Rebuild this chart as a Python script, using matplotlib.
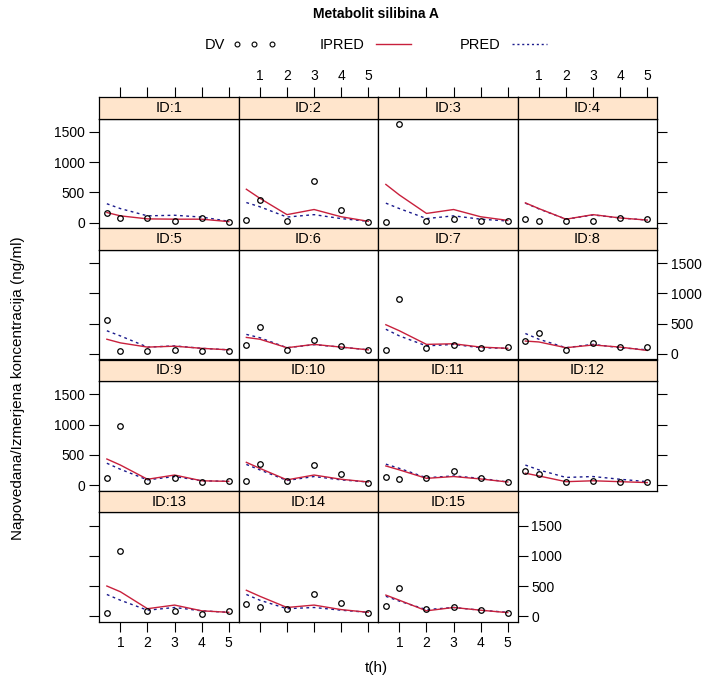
# ============================
# IMPORT LIBRARIES
# ============================
import matplotlib
matplotlib.use("Agg")
import matplotlib.pyplot as plt
from matplotlib.lines import Line2D

plt.rcParams["font.family"] = ["Liberation Sans", "DejaVu Sans"]

# ============================
# DATA (concentrations in ng/ml)
# ============================
ids = list(range(1, 16))
t = [0.5, 1, 2, 3, 4, 5]

dv = [
    [165, 70, 80, 30, 80, 10],
    [35, 380, 20, 690, 215, 10],
    [10, 1630, 20, 65, 20, 30],
    [65, 20, 20, 20, 75, 65],
    [560, 45, 45, 55, 40, 45],
    [145, 445, 70, 220, 125, 70],
    [70, 905, 90, 145, 90, 110],
    [210, 350, 70, 185, 110, 110],
    [120, 975, 65, 120, 50, 65],
    [65, 345, 65, 330, 180, 40],
    [140, 100, 120, 230, 110, 45],
    [230, 180, 45, 70, 45, 45],
    [55, 1085, 85, 85, 45, 85],
    [200, 155, 125, 365, 225, 55],
    [170, 460, 125, 155, 100, 55],
]

ipred = [
    [165, 110, 60, 55, 55, 15],
    [550, 400, 130, 215, 95, 20],
    [630, 455, 150, 215, 95, 35],
    [325, 230, 55, 130, 75, 40],
    [240, 180, 110, 125, 90, 65],
    [270, 240, 100, 155, 110, 65],
    [480, 380, 155, 165, 110, 90],
    [210, 195, 100, 145, 110, 55],
    [430, 330, 95, 165, 70, 60],
    [375, 275, 85, 165, 95, 50],
    [315, 250, 110, 140, 100, 50],
    [195, 150, 55, 70, 55, 40],
    [500, 405, 125, 185, 90, 65],
    [430, 330, 145, 185, 110, 65],
    [350, 265, 90, 145, 100, 60],
]

pred = [
    [310, 230, 110, 120, 90, 20],
    [330, 260, 90, 130, 65, 20],
    [320, 230, 65, 110, 55, 25],
    [320, 225, 55, 125, 75, 40],
    [380, 295, 110, 130, 90, 65],
    [320, 265, 100, 150, 110, 65],
    [405, 295, 130, 155, 100, 90],
    [335, 240, 100, 155, 100, 65],
    [360, 260, 85, 140, 70, 60],
    [340, 250, 75, 140, 85, 50],
    [345, 275, 120, 150, 110, 50],
    [330, 250, 125, 140, 95, 55],
    [360, 265, 100, 145, 90, 65],
    [360, 265, 125, 145, 100, 65],
    [330, 250, 110, 145, 100, 65],
]

x_ticks = [1, 2, 3, 4, 5]
y_ticks = [0, 500, 1000, 1500]

# ============================
# STYLE / LAYOUT
# ============================
W, H = 713, 683
ncol, nrow = 4, 4
left0, top0 = 99, 97
colw, rowh, strip_h = 139.5, 131.25, 21.5

col_ipred = "#C8203C"
col_pred = "#1A1A8C"
strip_col = "#FFE5CC"

tick_kw = dict(direction="out", length=7, width=0.8, pad=3,
               labelsize=10, colors="black")

fig = plt.figure(figsize=(W / 100, H / 100), dpi=100)


def fig_box(x, y_top, w, h):
    return [x / W, 1 - (y_top + h) / H, w / W, h / H]


# ============================
# PANELS
# ============================
for k, pid in enumerate(ids):
    r, c = divmod(k, ncol)
    x = left0 + c * colw
    y = top0 + r * rowh

    ax = fig.add_axes(fig_box(x, y + strip_h, colw, rowh - strip_h))
    st = fig.add_axes(fig_box(x, y, colw, strip_h))

    ax.plot(t, pred[k], color=col_pred, lw=1.0, ls=(0, (2, 2.5)))
    ax.plot(t, ipred[k], color=col_ipred, lw=1.0)
    ax.plot(t, dv[k], ls="none", marker="o", ms=4, mfc="none",
            mec="black", mew=0.9)

    ax.set_xlim(0.21, 5.36)
    ax.set_ylim(-95, 1720)
    ax.set_xticks(x_ticks)
    ax.set_yticks(y_ticks)
    ax.tick_params(**tick_kw)

    last_in_row = (c == ncol - 1) or (k == len(ids) - 1)
    bottom_row = r == nrow - 1

    ax.tick_params(bottom=bottom_row, labelbottom=bottom_row and c % 2 == 0,
                   top=False, labeltop=False,
                   left=(c == 0), labelleft=(c == 0 and r % 2 == 0),
                   right=last_in_row, labelright=last_in_row and r % 2 == 1)

    # strip with panel id
    st.set_facecolor(strip_col)
    st.set_xlim(0.21, 5.36)
    st.set_ylim(0, 1)
    st.set_yticks([])
    if r == 0:
        st.set_xticks(x_ticks)
        st.tick_params(**tick_kw)
        st.tick_params(bottom=False, labelbottom=False,
                       top=True, labeltop=(c % 2 == 1))
    else:
        st.set_xticks([])
    st.text(0.5, 0.5, "ID:%d" % pid, transform=st.transAxes,
            ha="center", va="center", fontsize=10.5)

    for a in (ax, st):
        for sp in a.spines.values():
            sp.set_linewidth(0.9)
            sp.set_color("black")

# ============================
# LEGEND AND LABELS
# ============================
fig.text(376 / W, 1 - 14 / H, "Metabolit silibina A", ha="center",
         va="center", fontsize=10, fontweight="bold")

handles = [
    Line2D([], [], ls="none", marker="o", ms=3.5, mfc="none",
           mec="black", mew=0.8),
    Line2D([], [], color=col_ipred, lw=1.0),
    Line2D([], [], color=col_pred, lw=1.0, ls=(0, (1.5, 2))),
]
fig.legend(handles, ["DV", "IPRED", "PRED"], ncol=3, markerfirst=False,
           numpoints=3, frameon=False, fontsize=10.5, loc="center",
           bbox_to_anchor=(378 / W, 1 - 45 / H), handlelength=3,
           handletextpad=0.5, columnspacing=3.0)

fig.text(376 / W, 1 - 668 / H, "t(h)", ha="center", va="center",
         fontsize=11)
fig.text(18 / W, 1 - 388 / H, "Napovedana/Izmerjena koncentracija (ng/ml)",
         ha="center", va="center", rotation=90, fontsize=11)

plt.savefig("out.png", dpi=100)
